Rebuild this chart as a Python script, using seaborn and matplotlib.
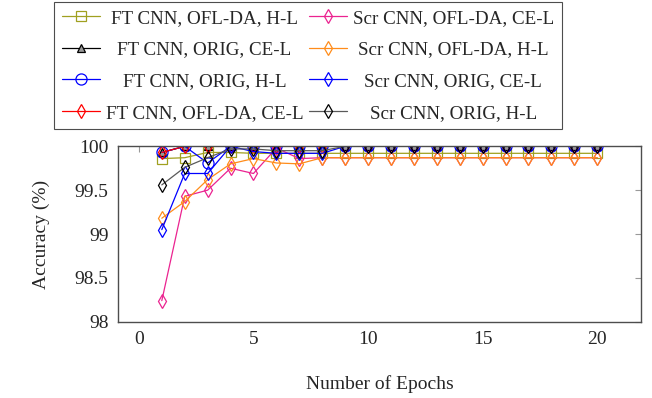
import seaborn as sns
import matplotlib.pyplot as plt
from matplotlib.ticker import FuncFormatter

sns.set_style("white")
plt.rcParams['font.family'] = ['Liberation Serif', 'DejaVu Serif']

# data
epochs = list(range(1, 21))
ft_ofl_hl = [99.86, 99.87, 99.93, 99.93, 99.92, 99.92, 99.92, 99.92, 99.92, 99.92,
             99.92, 99.92, 99.92, 99.92, 99.92, 99.92, 99.92, 99.92, 99.92, 99.92]
ft_orig_cel = [99.93, 100, 100, 100, 100, 100, 100, 100, 100, 100,
               100, 100, 100, 100, 100, 100, 100, 100, 100, 100]
ft_orig_hl = [99.93, 100, 99.81, 100, 100, 100, 100, 100, 100, 100,
              100, 100, 100, 100, 100, 100, 100, 100, 100, 100]
ft_ofl_cel = [99.93, 100, 100, 100, 100, 100, 100, 100, 100, 100,
              100, 100, 100, 100, 100, 100, 100, 100, 100, 100]
scr_ofl_cel = [98.24, 99.43, 99.50, 99.75, 99.69, 99.98, 99.86, 99.87, 99.87, 99.87,
               99.87, 99.87, 99.87, 99.87, 99.87, 99.87, 99.87, 99.87, 99.87, 99.87]
scr_ofl_hl = [99.18, 99.37, 99.62, 99.80, 99.86, 99.81, 99.80, 99.87, 99.87, 99.87,
              99.87, 99.87, 99.87, 99.87, 99.87, 99.87, 99.87, 99.87, 99.87, 99.87]
scr_orig_cel = [99.05, 99.69, 99.69, 100, 99.94, 99.92, 99.92, 99.92, 100, 100,
                100, 100, 100, 100, 100, 100, 100, 100, 100, 100]
scr_orig_hl = [99.56, 99.76, 99.87, 99.97, 99.97, 99.95, 99.95, 99.95, 100, 100,
               100, 100, 100, 100, 100, 100, 100, 100, 100, 100]

series = [
    ("FT CNN, OFL-DA, H-L", ft_ofl_hl, '#a0a020', 's', 'none', 6.5),
    ("FT CNN, ORIG, CE-L", ft_orig_cel, 'black', '^', '#999999', 6),
    ("FT CNN, ORIG, H-L", ft_orig_hl, 'blue', 'o', 'none', 8),
    ("FT CNN, OFL-DA, CE-L", ft_ofl_cel, 'red', 'd', 'none', 7.5),
    ("Scr CNN, OFL-DA, CE-L", scr_ofl_cel, '#eb2390', 'd', 'none', 7.5),
    ("Scr CNN, OFL-DA, H-L", scr_ofl_hl, '#ff8c1a', 'd', 'none', 7.5),
    ("Scr CNN, ORIG, CE-L", scr_orig_cel, 'blue', 'd', 'none', 7.5),
    ("Scr CNN, ORIG, H-L", scr_orig_hl, 'black', 'd', 'none', 7.5),
]

fig = plt.figure(figsize=(6.52, 3.98), dpi=100)
ax = fig.add_axes([0.1814, 0.1917, 0.8013, 0.4407])

handles = []
for name, vals, c, m, fc, ms in series:
    sns.lineplot(x=epochs, y=vals, ax=ax, color=c, marker=m, markersize=ms,
                 markerfacecolor=fc, markeredgecolor=c, markeredgewidth=0.9,
                 linewidth=0.9, label=name, legend=False)
    handles.append(ax.lines[-1])
ax.lines[-1].set_color('0.35')
ax.lines[-1].set_markeredgecolor('black')

ax.set_xlim(-0.9, 21.9)
ax.set_ylim(98, 100)
ax.set_xticks([0, 5, 10, 15, 20])
ax.set_yticks([98, 98.5, 99, 99.5, 100])
ax.yaxis.set_major_formatter(FuncFormatter(lambda v, p: f"{v:g}"))
ax.tick_params(direction='in', length=4, width=0.8, color='0.6', labelsize=14,
               top=True, right=True, pad=7)
for s in ax.spines.values():
    s.set_color('0.3')
    s.set_linewidth(1.0)
ax.set_xlabel("Number of Epochs", fontsize=14, labelpad=19)
ax.set_ylabel("Accuracy (%)", fontsize=14, labelpad=18)

leg = fig.legend(handles=handles, labels=[s[0] for s in series], ncol=2,
                 loc='upper center', bbox_to_anchor=(308 / 652, 1 - 2 / 398),
                 fontsize=13.7, frameon=True, fancybox=False, edgecolor='0.3',
                 framealpha=1, handlelength=2.0, handletextpad=0.3,
                 columnspacing=0.3, labelspacing=0.75, borderpad=0.4,
                 borderaxespad=0)
leg.get_frame().set_linewidth(0.8)

# centre legend texts within each column like pgfplots does
fig.canvas.draw()
r = fig.canvas.get_renderer()
texts = leg.get_texts()
for col in (texts[:4], texts[4:]):
    ws = [t.get_window_extent(r).width for t in col]
    mw = max(ws)
    for t, w in zip(col, ws):
        x, y = t.get_position()
        t.set_position((x + (mw - w) / 2, y))

fig.savefig("out.png", dpi=100)
